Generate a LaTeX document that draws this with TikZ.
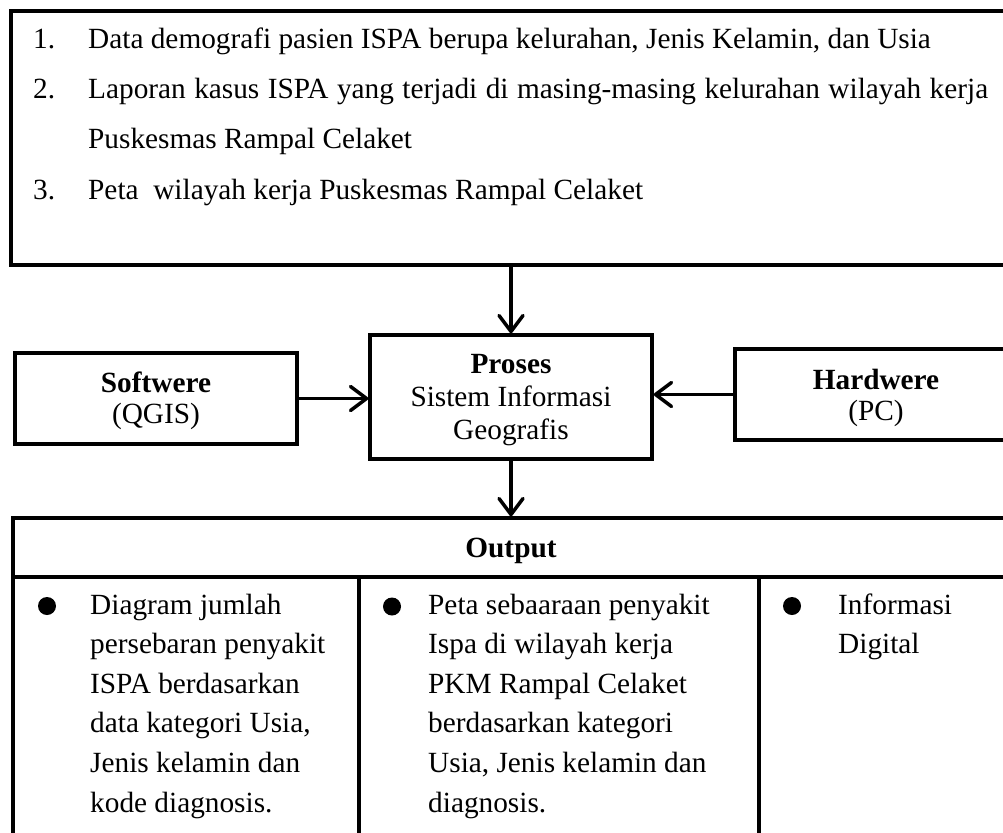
\documentclass[tikz,border=0pt]{standalone}
\usepackage{fontspec}
\setmainfont{Liberation Serif}
\usetikzlibrary{arrows.meta}

\begin{document}
\begin{tikzpicture}[x=1pt,y=-1pt,
  box/.style={draw, line width=3.5pt, rectangle, inner sep=0pt},
  flow/.style={line width=3.5pt, line join=round, line cap=round,
    -{Straight Barb[length=16pt,width=24pt,round]}},
  txt/.style={inner sep=0pt, anchor=base west, font=\fontsize{29.3}{35}\selectfont},
  ctxt/.style={inner sep=0pt, anchor=base, font=\fontsize{29.3}{35}\selectfont},
  bold/.style={font=\fontsize{29.3}{35}\selectfont\bfseries},
  dot/.style={circle, fill, inner sep=0pt, minimum size=18pt}
]
\path[use as bounding box] (0,0) rectangle (1003,832);
\clip (0,0) rectangle (1003,832);

% input data box
\node[box, minimum width=1000pt, minimum height=254pt] (input) at (511,138) {};
\node[txt] (n1) at (33,49) {1.};
\node[txt] (t1) at (88,49) {Data demografi pasien ISPA berupa kelurahan, Jenis Kelamin, dan Usia};
\node[txt] (n2) at (33,99) {2.};
\node[txt] (t2) at (88,99) {\makebox[900pt][s]{Laporan kasus ISPA yang terjadi di masing-masing kelurahan wilayah kerja}};
\node[txt] (t2b) at (88,148) {Puskesmas Rampal Celaket};
\node[txt] (n3) at (33,199) {3.};
\node[txt] (t3) at (88,199) {Peta\ \ wilayah kerja Puskesmas Rampal Celaket};

% process row
\node[box, minimum width=282pt, minimum height=91pt] (soft) at (156,398.5) {};
\node[box, minimum width=282pt, minimum height=124pt] (proses) at (511,397) {};
\node[box, minimum width=282pt, minimum height=91pt] (hard) at (876,394.5) {};

\node[ctxt, bold] (softT) at (156,392) {Softwere};
\node[ctxt] (softS) at (156,423) {(QGIS)};
\node[ctxt, bold] (prosT) at (511,373) {Proses};
\node[ctxt] (prosS1) at (511,406.5) {Sistem Informasi};
\node[ctxt] (prosS2) at (511,439) {Geografis};
\node[ctxt, bold] (hardT) at (876,389) {Hardwere};
\node[ctxt] (hardS) at (876,420) {(PC)};

% output table
\node[box, minimum width=996pt, minimum height=59pt] (output) at (511,547.5) {};
\node[box, minimum width=346pt, minimum height=293pt] (cellA) at (186,723.5) {};
\node[box, minimum width=400pt, minimum height=293pt] (cellB) at (559,723.5) {};
\node[box, minimum width=250pt, minimum height=293pt] (cellC) at (884,723.5) {};
\node[ctxt, bold] (outT) at (511,557) {Output};

\node[dot] (bA) at (47,606) {};
\node[dot] (bB) at (392,606.5) {};
\node[dot] (bC) at (792,606) {};

\foreach \s [count=\i from 0] in {Diagram jumlah, persebaran penyakit, ISPA berdasarkan, {data kategori Usia,}, Jenis kelamin dan, kode diagnosis.}
  \node[txt] (a\i) at (90,{614+39.6*\i}) {\s};
\foreach \s [count=\i from 0] in {Peta sebaaraan penyakit, Ispa di wilayah kerja, PKM Rampal Celaket, berdasarkan kategori, {Usia, Jenis kelamin dan}, diagnosis.}
  \node[txt] (b\i) at (428,{614+39.6*\i}) {\s};
\foreach \s [count=\i from 0] in {Informasi, Digital}
  \node[txt] (c\i) at (838,{614+39.6*\i}) {\s};

% connectors
\draw[flow] (input.south) -- (proses.north);
\draw[flow] (soft.east) -- (soft.east -| proses.west);
\draw[flow] (hard.west) -- (hard.west -| proses.east);
\draw[flow] (proses.south) -- (output.north);
\end{tikzpicture}
\end{document}
